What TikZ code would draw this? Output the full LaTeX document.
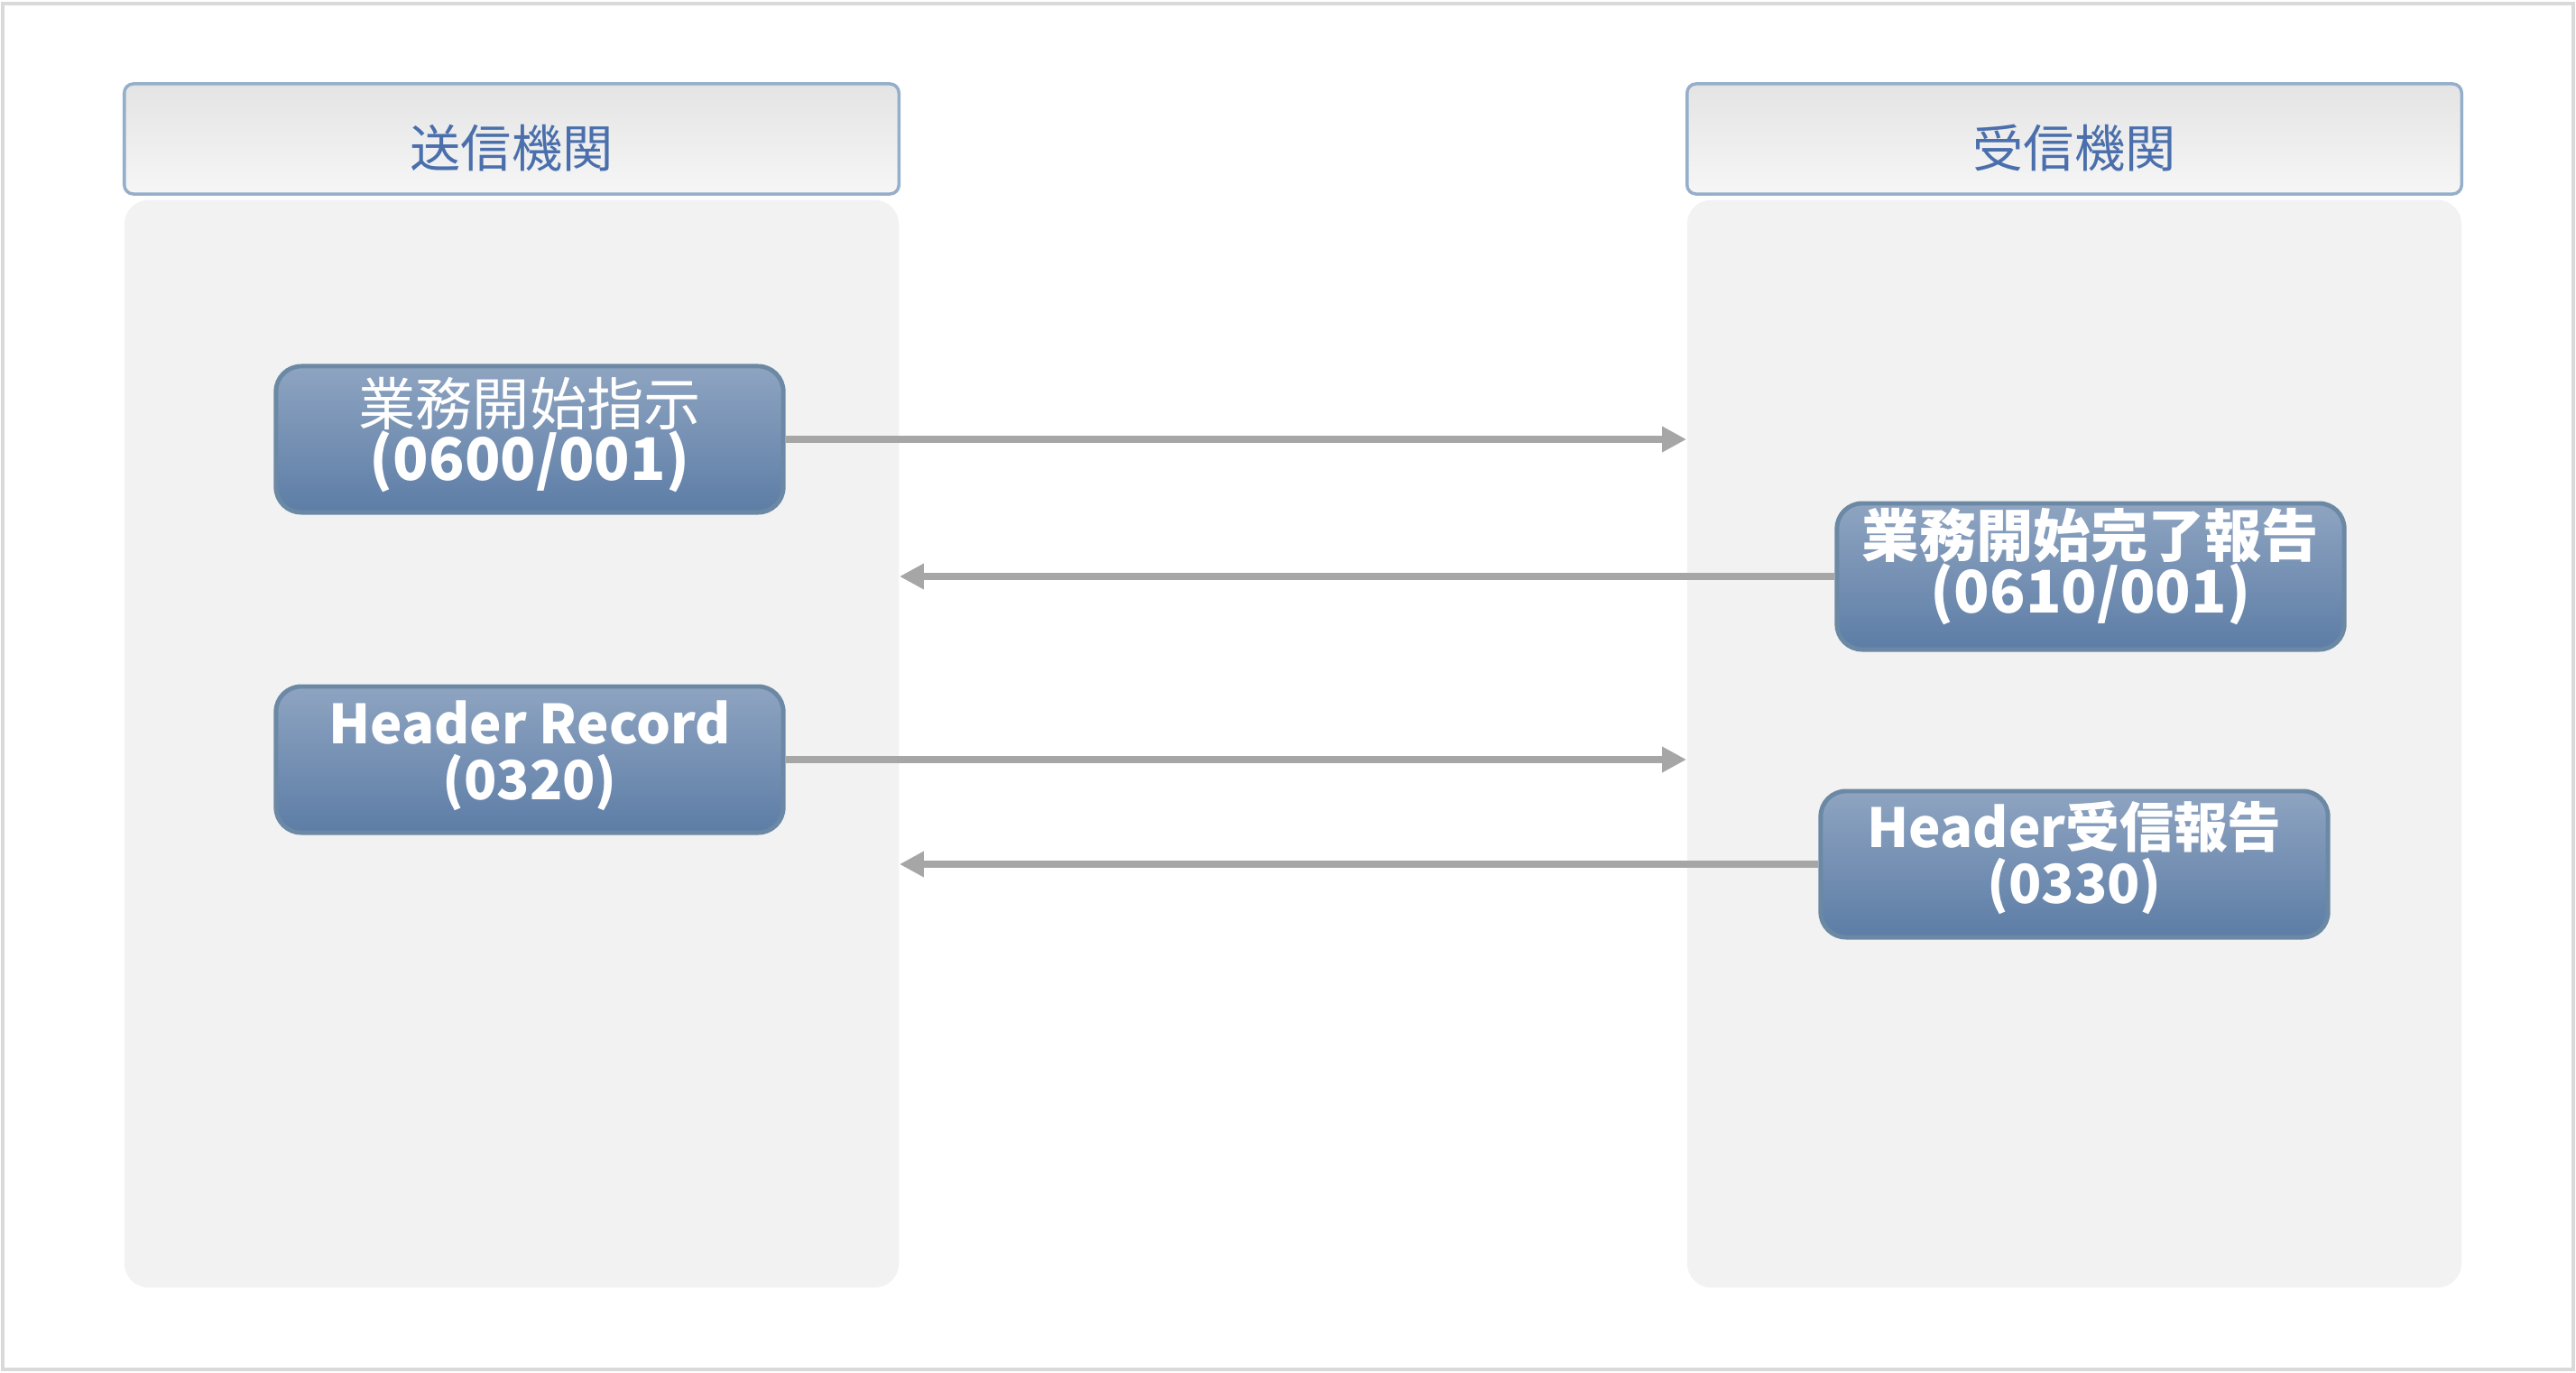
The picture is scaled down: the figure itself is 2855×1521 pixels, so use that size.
\documentclass[tikz,border=0pt]{standalone}
\usepackage{fontspec}
\setmainfont{Liberation Sans}
\newfontfamily\jp{Noto Sans CJK JP}
\usetikzlibrary{arrows.meta,calc}
\definecolor{framecol}{HTML}{D9D9D9}
\definecolor{hdrborder}{HTML}{95AFCB}
\definecolor{hdrtop}{HTML}{E4E4E4}
\definecolor{hdrbot}{HTML}{F6F6F6}
\definecolor{hdrtext}{HTML}{4A6FAC}
\definecolor{bodyfill}{HTML}{F2F2F2}
\definecolor{nodetop}{HTML}{8EA4C1}
\definecolor{nodebot}{HTML}{5D7DA6}
\definecolor{nodeborder}{HTML}{6B89A4}
\definecolor{arrcol}{HTML}{A6A6A6}
% shifted two-line text: #1 raise, #2 first line, #3 second line
\newcommand\mtxt[3]{\raisebox{#1}[\height][\depth]{\parbox{5.5cm}{\centering\lineskiplimit=-30pt
  {#2}\\{#3}\par}}}
\tikzset{
  hdr/.style={draw=hdrborder, line width=1pt, rounded corners=0.1cm,
    top color=hdrtop, bottom color=hdrbot,
    minimum width=8.58cm, minimum height=1.22cm,
    font=\jp\fontsize{16}{16}\selectfont, text=hdrtext},
  lane/.style={fill=bodyfill, draw=none, rounded corners=0.27cm,
    minimum width=8.58cm, minimum height=12.05cm},
  msg/.style={draw=nodeborder, line width=1.4pt, rounded corners=0.28cm,
    top color=nodetop, bottom color=nodebot,
    minimum width=5.62cm, minimum height=1.62cm,
    text=white, font=\jp\fontsize{17}{17.5}\selectfont, inner sep=0pt},
  arr/.style={draw=arrcol, line width=2pt,
    -{Triangle[length=0.27cm, width=0.27cm]}}
}
\begin{document}
\begin{tikzpicture}[x=0.01cm, y=-0.01cm]
\useasboundingbox (0,0) rectangle (2855,1521);
\draw[framecol, line width=0.9pt] (3,4) rectangle (2852,1518);

\node[lane] (lbody) at (567,824.5) {};
\node[lane] (rbody) at (2299,824.5) {};
\node[hdr] (lhdr) at (567,154) {\raisebox{-0.1cm}[\height][\depth]{送信機関}};
\node[hdr] (rhdr) at (2299,154) {\raisebox{-0.1cm}[\height][\depth]{受信機関}};

\node[msg] (n1) at (587,487)
  {\mtxt{0.05cm}{\fontsize{18}{17}\selectfont 業務開始指示}{\fontsize{18.5}{17}\selectfont\bfseries (0600/001)}};
\node[msg] (n2) at (2317,639)
  {\mtxt{0.11cm}{\fontsize{18}{17.5}\selectfont\bfseries 業務開始完了報告}{\fontsize{18.5}{17.5}\selectfont\bfseries (0610/001)}};
\node[msg] (n3) at (587,842)
  {\mtxt{0.04cm}{\bfseries Header Record}{\bfseries (0320)}};
\node[msg] (n4) at (2299,958)
  {\mtxt{0.07cm}{\bfseries Header受信報告}{\bfseries (0330)}};

\draw[arr] (n1.east) -- (n1.east -| rbody.west);
\draw[arr] (n2.west) -- (n2.west -| lbody.east);
\draw[arr] (n3.east) -- (n3.east -| rbody.west);
\draw[arr] (n4.west) -- (n4.west -| lbody.east);
\end{tikzpicture}
\end{document}
